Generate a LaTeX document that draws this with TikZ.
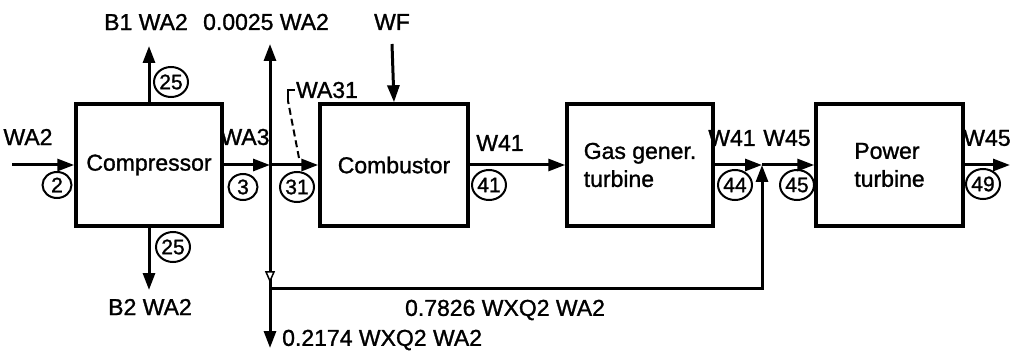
\documentclass[tikz,border=0pt]{standalone}
\usepackage{fontspec}
\setmainfont{Liberation Sans}[BoldFont={Liberation Sans}, BoldFeatures={FakeBold=1.2}]
\usetikzlibrary{arrows.meta, shapes.geometric}

\begin{document}
\begin{tikzpicture}[x=1pt,y=-1pt]
    \tikzstyle{blk}=[draw, line width=3.5pt, minimum width=146pt, minimum height=122pt, font=\fontsize{23}{28}\selectfont\bfseries]
    \tikzstyle{stn}=[ellipse, draw, line width=2pt, minimum width=34pt, minimum height=30pt, inner sep=0pt, font=\fontsize{21}{21}\selectfont\bfseries]
    \tikzstyle{stn1}=[stn, minimum width=29pt, minimum height=26pt]
    \tikzstyle{lbl}=[inner sep=1pt, font=\fontsize{23}{27}\selectfont\bfseries]
    \tikzstyle{flow}=[line width=3pt, -{Triangle[length=17pt,width=12pt]}]
    \useasboundingbox (0,0) rectangle (1011,358);
    % components
    \node[blk] (comp) at (149,165) {Compressor};
    \node[blk, minimum width=148pt] (comb) at (394,165) {Combustor};
    \node[blk, align=left] (ggt) at (640,165) {Gas gener.\\turbine};
    \node[blk, minimum width=147pt, align=left] (pt) at (889.5,165) {Power\\turbine};
    % free ends and junctions
    \coordinate (in) at (12,165);
    \coordinate (out) at (1010,165);
    \coordinate (b1) at (149,46);
    \coordinate (b2) at (149,290);
    \coordinate (wf) at (392,44);
    \coordinate (j3) at (270,165);
    \coordinate (b3top) at (270,44);
    \coordinate (b3bot) at (270,348);
    \coordinate (b3mark) at (270,283);
    \coordinate (b3mid) at (270,288);
    \coordinate (rt) at (762,288);
    \coordinate (j45) at (762,165);
    % flows
    \draw[flow] (in) -- (comp.west);
    \draw[flow] (comp.north) -- (b1);
    \draw[flow] (comp.south) -- (b2);
    \draw[flow] (comp.east) -- (j3);
    \draw[flow] (j3) -- (comb.west);
    \draw[flow] (j3) -- (b3top);
    \draw[flow] (j3) -- (b3bot);
    \draw[line width=1.5pt, -{Triangle[open, fill=white, length=12pt, width=10pt]}] (j3) -- (b3mark);
    \draw[flow] (b3mid) -- (rt) -- (j45);
    \draw[flow] (wf) -- (comb.north);
    \draw[flow] (comb.east) -- (ggt.west);
    \draw[flow] (ggt.east) -- (j45);
    \draw[flow] (j45) -- (pt.west);
    \draw[flow] (pt.east) -- (out);
    % station numbers
    \node[stn1] (s2) at (57,185) {2};
    \node[stn] (s25a) at (171,82) {25};
    \node[stn] (s25b) at (173,247) {25};
    \node[stn1] (s3) at (243,187) {3};
    \node[stn] (s31) at (297,187) {31};
    \node[stn] (s41) at (489,185) {41};
    \node[stn] (s44) at (735,185) {44};
    \node[stn] (s45) at (797,185) {45};
    \node[stn] (s49) at (983,184) {49};
    % flow labels
    \node[lbl] (lwa2) at (28,137) {WA2};
    \node[lbl] (lb1) at (146,22) {B1 WA2};
    \node[lbl] (lb2) at (150,307) {B2 WA2};
    \node[lbl] (lby) at (266,22) {0.0025 WA2};
    \node[lbl] (lwf) at (392,22) {WF};
    \node[lbl] (lwa3) at (245,137) {WA3};
    \node[lbl] (lwa31) at (327,90) {WA31};
    \node[lbl] (lw41a) at (500,143) {W41};
    \node[lbl] (lw41b) at (732,138) {W41};
    \node[lbl] (lw45a) at (787,138) {W45};
    \node[lbl] (lw45b) at (987,138) {W45};
    \node[lbl] (lret) at (505,310) {0.7826 WXQ2 WA2};
    \node[lbl, anchor=west] (lovb) at (281,340) {0.2174 WXQ2 WA2};
    % WA31 leader
    \coordinate (wa31hook) at (288,101);
    \coordinate (wa31end) at (299,158);
    \draw[line width=2pt, dash pattern=on 7pt off 4pt] (wa31end) -- (wa31hook);
    \draw[line width=2pt] (wa31hook) |- (lwa31.west);
\end{tikzpicture}
\end{document}
